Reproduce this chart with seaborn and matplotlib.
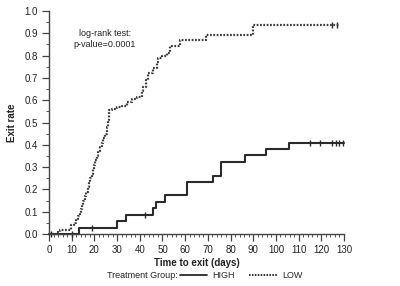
import matplotlib
matplotlib.use("Agg")
import matplotlib.pyplot as plt
import seaborn as sns
import pandas as pd
from matplotlib.lines import Line2D
from matplotlib.ticker import MultipleLocator

# ---- data ----
high_time = [0, 13.4, 29.8, 33.9, 46.0, 47.1, 51.1, 60.6, 72.4, 75.6, 86.3, 95.6, 105.7, 130.0]
high_rate = [0.0, 0.029, 0.057, 0.086, 0.117, 0.145, 0.174, 0.232, 0.262, 0.321, 0.354, 0.381, 0.409, 0.409]

low_time = [0, 3.5, 5.0, 9.7, 11.0, 12.0, 12.9, 13.5, 14.0, 14.5, 15.2, 15.8, 16.5, 17.0,
            17.6, 18.2, 18.8, 19.3, 19.8, 20.3, 21.0, 21.7, 22.5, 23.3, 24.0, 24.7, 25.4,
            26.0, 26.3, 27.6, 29.8, 32.0, 34.2, 36.4, 38.6, 40.8, 41.6, 42.6, 43.7, 46.0,
            47.4, 48.1, 49.8, 51.8, 53.2, 57.7, 69.3, 89.8, 128.0]
low_rate = [0.0, 0.010, 0.020, 0.039, 0.050, 0.068, 0.080, 0.092, 0.110, 0.130, 0.150,
            0.170, 0.190, 0.210, 0.230, 0.250, 0.270, 0.290, 0.310, 0.330, 0.350, 0.370,
            0.390, 0.410, 0.430, 0.450, 0.480, 0.510, 0.556, 0.560, 0.570, 0.576, 0.592,
            0.605, 0.615, 0.640, 0.660, 0.690, 0.720, 0.745, 0.773, 0.790, 0.800, 0.812,
            0.843, 0.868, 0.892, 0.937, 0.937]

high_cens_time = [1.0, 10.0, 19.0, 42.3, 115.0, 119.5, 124.5, 126.3, 128.0, 129.5]
high_cens_rate = [0.0, 0.0, 0.029, 0.086, 0.409, 0.409, 0.409, 0.409, 0.409, 0.409]
low_cens_time = [124.8, 126.8]
low_cens_rate = [0.937, 0.937]

groups = ["HIGH", "LOW"]
x_ticks = list(range(0, 131, 10))
y_ticks = [round(0.1 * i, 1) for i in range(11)]

df = pd.concat([
    pd.DataFrame({"time": high_time, "rate": high_rate, "group": "HIGH"}),
    pd.DataFrame({"time": low_time, "rate": low_rate, "group": "LOW"}),
])
cens = pd.concat([
    pd.DataFrame({"time": high_cens_time, "rate": high_cens_rate, "group": "HIGH"}),
    pd.DataFrame({"time": low_cens_time, "rate": low_cens_rate, "group": "LOW"}),
])

sns.set_style("white")
plt.rcParams["font.family"] = ["Liberation Sans Narrow", "Liberation Sans", "DejaVu Sans"]

fig = plt.figure(figsize=(4.0, 2.86), dpi=100)
ax = fig.add_axes([0.1225, 0.1818, 0.7375, 0.7797])

col = "#2a2a2a"
sns.lineplot(data=df[df.group == "HIGH"], x="time", y="rate", color=col,
             drawstyle="steps-post", estimator=None, linewidth=1.5, ax=ax,
             legend=False, clip_on=False)
sns.lineplot(data=df[df.group == "LOW"], x="time", y="rate", color="#3a3a3a",
             drawstyle="steps-post", estimator=None, linewidth=1.6, dashes=(0.8, 0.7),
             ax=ax, legend=False, clip_on=False)
sns.scatterplot(data=cens, x="time", y="rate", marker="|", color=col, s=18,
                linewidth=1.0, ax=ax, legend=False, clip_on=False)

ax.set_xlim(0, 130)
ax.set_ylim(0, 1.0)
ax.set_xticks(x_ticks)
ax.set_yticks(y_ticks)
ax.set_yticklabels([f"{v:.1f}" for v in y_ticks])
ax.xaxis.set_minor_locator(MultipleLocator(2))
ax.yaxis.set_minor_locator(MultipleLocator(0.05))
ax.tick_params(axis="both", which="major", labelsize=7, length=5, width=0.9,
               color="#444", labelcolor="#222", pad=3, direction="out",
               bottom=True, left=True)
ax.tick_params(axis="both", which="minor", length=2.5, width=0.7, color="#555",
               direction="out", bottom=True, left=True)
for s in ["top", "right"]:
    ax.spines[s].set_visible(False)
for s in ["left", "bottom"]:
    ax.spines[s].set_color("#444")
    ax.spines[s].set_linewidth(1.0)

ax.set_xlabel("Time to exit (days)", fontsize=7, fontweight="bold", labelpad=2, color="#222")
ax.set_ylabel("Exit rate", fontsize=7, fontweight="bold", labelpad=5, color="#222")

ax.text(24.5, 0.875, "log-rank test:\np-value=0.0001", ha="center", va="center",
        fontsize=6.5, color="#222", linespacing=1.2)

fig.text(107 / 400, 1 - 276 / 286, "Treatment Group:", fontsize=6.5, color="#222",
         va="center", ha="left")
handles = [Line2D([], [], color=col, lw=1.3),
           Line2D([], [], color=col, lw=1.4, dashes=(0.8, 0.7))]
fig.legend(handles, groups, loc="center left", bbox_to_anchor=(180 / 400, 1 - 276 / 286),
           ncol=2, frameon=False, fontsize=6.5, handlelength=3.0, handletextpad=0.6,
           columnspacing=1.6, borderpad=0, borderaxespad=0)

fig.savefig("out.png", dpi=100)
